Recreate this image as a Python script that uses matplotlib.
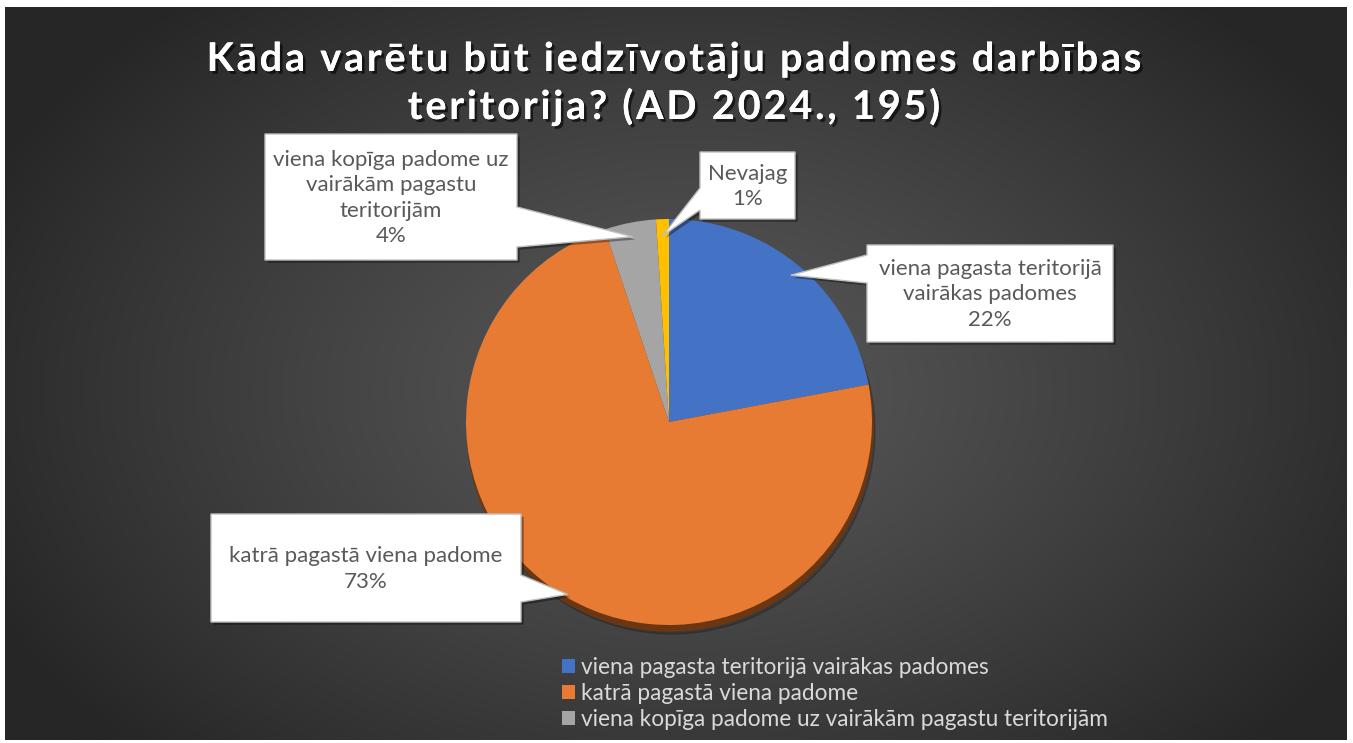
import numpy as np
import matplotlib
matplotlib.use("Agg")
import matplotlib.pyplot as plt
from matplotlib.patches import Polygon, Circle
import matplotlib.patheffects as pe

# ---------------- data ----------------
title_lines = ["Kāda varētu būt iedzīvotāju padomes darbības",
               "teritorija? (AD 2024., 195)"]
categories = ["viena pagasta teritorijā vairākas padomes",
              "katrā pagastā viena padome",
              "viena kopīga padome uz vairākām pagastu teritorijām",
              "Nevajag"]
box_labels = ["viena pagasta teritorijā\nvairākas padomes",
              "katrā pagastā viena padome",
              "viena kopīga padome uz\nvairākām pagastu\nteritorijām",
              "Nevajag"]
counts = [43, 142, 8, 2]
percent_labels = ["22%", "73%", "4%", "1%"]
colors = ["#4472C4", "#E87B33", "#A5A5A5", "#FFC000"]

# ---------------- layout ----------------
W, H = 1353, 743
fig = plt.figure(figsize=(W / 100, H / 100), dpi=100)
fig.patch.set_facecolor("white")
ax = fig.add_axes([0, 0, 1, 1])
ax.set_xlim(0, W)
ax.set_ylim(H, 0)
ax.axis("off")

# background radial gradient (chart area)
x0, x1, y0, y1 = 5, 1347, 7, 740
gx = np.linspace(x0, x1, 400)
gy = np.linspace(y0, y1, 250)
GX, GY = np.meshgrid(gx, gy)
d = np.sqrt(((GX - 690) / 780) ** 2 + ((GY - 390) / 520) ** 2)
d = np.clip(d, 0, 1)
c_in, c_out = 0x58, 0x26
val = (c_in + (c_out - c_in) * d ** 1.2) / 255.0
img = np.dstack([val, val, val])
ax.imshow(img, extent=(x0, x1, y1, y0), origin="upper", interpolation="bilinear", zorder=0)

# pie geometry
cx, cy, r = 669, 422, 203

# shadow (3D edge)
ax.add_patch(Circle((cx + 1, cy + 6), r, color="#6A3712", zorder=1))
ax.add_patch(Circle((cx + 3, cy + 9), r, color="#000000", alpha=0.18, zorder=0.9))

wedges, _ = ax.pie(counts, colors=colors, startangle=-90, counterclock=True,
                   center=(cx, cy), radius=r, frame=True,
                   wedgeprops=dict(linewidth=0, zorder=2))
for w in wedges:
    w.set_zorder(2)
ax.set_xlim(0, W)
ax.set_ylim(H, 0)
ax.axis("off")

# mid angles for callout tips
total = sum(counts)
cum = np.cumsum([0] + counts)
mids = [-90 + 360 * (cum[i] + counts[i] / 2) / total for i in range(len(counts))]
tip_frac = [0.94, 0.985, 0.93, 0.92]

# callout boxes: (left, top, right, bottom), side of arrow, base span
boxes = [
    dict(rect=(867, 245, 1113, 342), side="left", base=(255, 283)),
    dict(rect=(211, 514, 521, 622), side="right", base=(575, 602)),
    dict(rect=(265, 134, 517, 260), side="right", base=(207, 247)),
    dict(rect=(700, 152, 795, 219), side="left", base=(188, 210)),
]

label_color = "#595959"
font_lbl = "Lato"
for i, b in enumerate(boxes):
    L, T, R, B = b["rect"]
    a = np.deg2rad(mids[i])
    tx = cx + tip_frac[i] * r * np.cos(a)
    ty = cy + tip_frac[i] * r * np.sin(a)
    b0, b1 = b["base"]
    if b["side"] == "left":
        pts = [(L, T), (R, T), (R, B), (L, B), (L, b1), (tx, ty), (L, b0)]
    else:
        pts = [(L, T), (R, T), (R, b0), (tx, ty), (R, b1), (R, B), (L, B)]
    ax.add_patch(Polygon(pts, closed=True, facecolor="white", edgecolor="#BFBFBF",
                         linewidth=1.0, zorder=5,
                         path_effects=[pe.withSimplePatchShadow(offset=(2, -2), shadow_rgbFace="black", alpha=0.35)]))
    ax.text((L + R) / 2, (T + B) / 2 + 1, box_labels[i] + "\n" + percent_labels[i],
            ha="center", va="center", fontsize=16, color=label_color,
            family=font_lbl, linespacing=1.32, zorder=6)

# title with letter spacing
renderer = fig.canvas.get_renderer()
title_kw = dict(fontsize=28.5, fontweight="bold", color="white", family="Lato")
shadow = [pe.withSimplePatchShadow(offset=(2, -2), shadow_rgbFace="black", alpha=0.6), pe.Normal()]


def text_width(s):
    t = ax.text(0, 0, s, **title_kw)
    w = t.get_window_extent(renderer).width
    t.remove()
    return w


bar_w = text_width("|")
spacing = 2.8
for line, base_y in zip(title_lines, [71, 119]):
    pos = [text_width(line[:i] + "|") - bar_w for i in range(len(line))]
    total_w = text_width(line) + spacing * (len(line) - 1)
    start = 674 - total_w / 2
    for i, ch in enumerate(line):
        if ch == " ":
            continue
        ax.text(start + pos[i] + spacing * i, base_y, ch, ha="left", va="baseline",
                zorder=6, path_effects=shadow, **title_kw)

# legend (first three categories)
leg = ax.legend(wedges[:3], categories[:3], loc="upper left",
                bbox_to_anchor=(553 / W, 1 - 648 / H), frameon=False,
                labelcolor="#D9D9D9", handlelength=0.55, handleheight=0.55,
                handletextpad=0.3, labelspacing=0.22, borderaxespad=0,
                prop=dict(family="Lato", size=16.3))
leg.set_zorder(7)

fig.savefig("out.png", dpi=100, facecolor="white")
